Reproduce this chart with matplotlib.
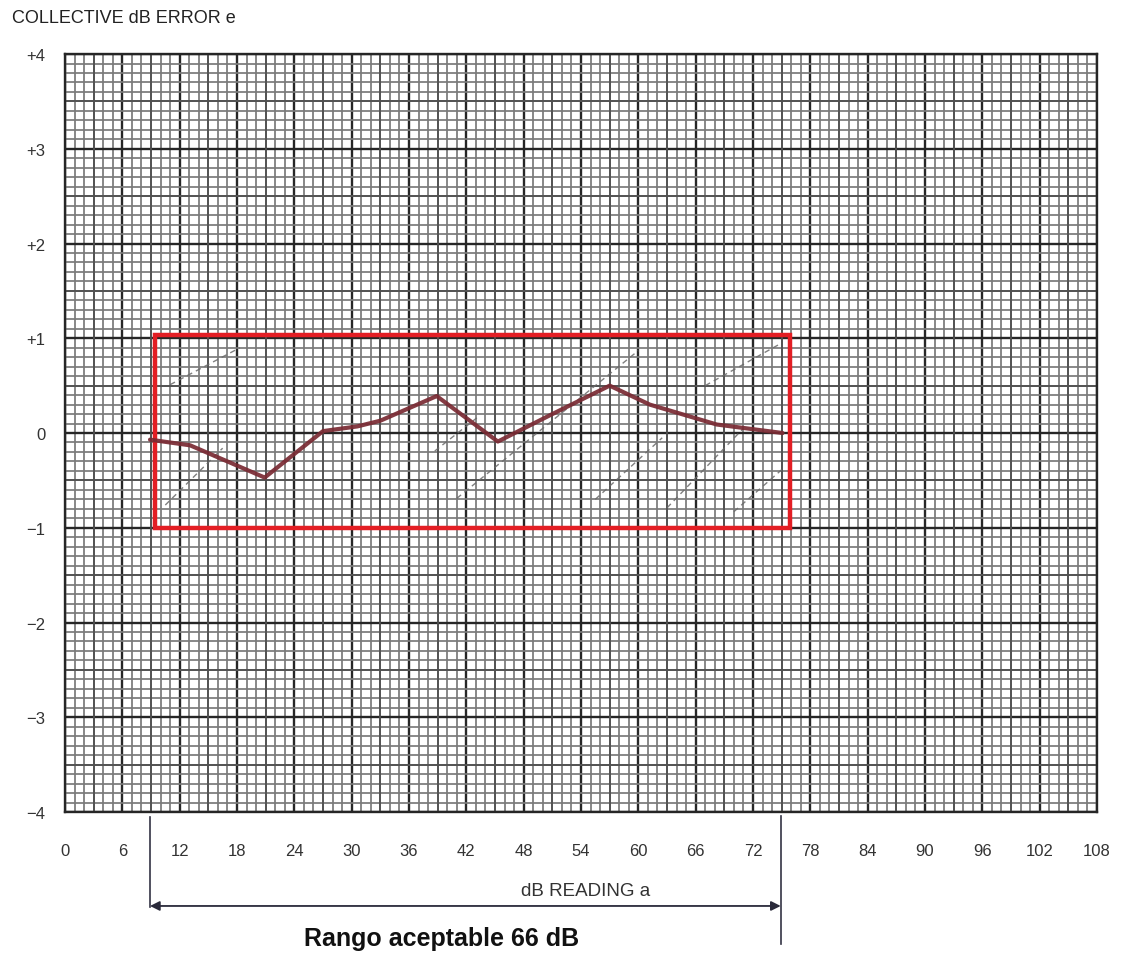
import numpy as np
import matplotlib
matplotlib.use("Agg")
import matplotlib.pyplot as plt
from matplotlib.patches import Rectangle
from matplotlib.lines import Line2D
from matplotlib.transforms import blended_transform_factory

plt.rcParams['font.family'] = ['Liberation Sans', 'DejaVu Sans']

# dB reading (x) and collective dB error (y) of the measured curve
reading_db = [8.9, 13.1, 20.9, 27.0, 30.6, 33.0, 38.9, 45.3, 50.8, 57.0, 61.2, 68.2, 75.1]
error_db = [-0.07, -0.13, -0.47, 0.02, 0.07, 0.13, 0.39, -0.09, 0.19, 0.50, 0.30, 0.09, 0.0]

# acceptance window
window_x = [9.4, 75.9]
window_y = [-1.0, 1.03]

# faint diagonal reference strokes on the paper (x0, y0, x1, y1)
guide_x0 = [11.0, 10.5, 38.7, 41.0, 55.5, 63.0, 70.0, 67.0]
guide_y0 = [0.51, -0.76, -0.19, -0.69, -0.70, -0.79, -0.83, 0.50]
guide_x1 = [18.3, 16.5, 43.1, 60.0, 62.5, 71.0, 75.2, 75.0]
guide_y1 = [0.90, -0.16, 0.16, 0.87, -0.05, 0.05, -0.37, 0.95]

x_ticks = list(range(0, 109, 6))
y_ticks = [-4, -3, -2, -1, 0, 1, 2, 3, 4]
y_labels = ['\u22124', '\u22123', '\u22122', '\u22121', '0', '+1', '+2', '+3', '+4']

fig = plt.figure(figsize=(11.3, 9.54), dpi=100)
ax = fig.add_axes([0.0575, 0.1478, 0.9133, 0.7945])
ax.set_xlim(0, 108)
ax.set_ylim(-4, 4)

# graph paper: fine, medium and bold rulings
ax.set_xticks(x_ticks)
ax.set_yticks(y_ticks)
ax.set_xticks(np.arange(0, 109, 1), minor=True)
ax.set_yticks(np.arange(-4, 4.01, 0.1), minor=True)
ax.grid(which='minor', color='#7a7a7a', lw=1.25, zorder=0)
ax.grid(which='major', color='#262626', lw=1.7, zorder=1)
for xv in np.arange(3, 108, 6):
    ax.axvline(xv, color='#505050', lw=1.3, zorder=1)
for yv in np.arange(-3.5, 4, 1.0):
    ax.axhline(yv, color='#505050', lw=1.3, zorder=1)
ax.set_axisbelow(True)
for s in ax.spines.values():
    s.set_color('#262626')
    s.set_linewidth(1.7)

ax.tick_params(which='both', length=0)
ax.tick_params(axis='x', pad=22, labelsize=12, labelcolor='#333333')
ax.tick_params(axis='y', pad=14, labelsize=12, labelcolor='#333333')
ax.set_yticklabels(y_labels)

# faint diagonal strokes
for a, b, c, d in zip(guide_x0, guide_y0, guide_x1, guide_y1):
    ax.plot([a, c], [b, d], color='#6a6a6a', lw=1.0, ls=(0, (4, 3)), alpha=0.85, zorder=2)

# acceptance window
ax.add_patch(Rectangle((window_x[0], window_y[0]), window_x[1] - window_x[0],
                       window_y[1] - window_y[0], fill=False,
                       edgecolor='#e31e24', lw=3.2, zorder=4))

# measured curve
ax.plot(reading_db, error_db, color='#7a2a33', lw=3.0, solid_joinstyle='round',
        solid_capstyle='round', alpha=0.92, zorder=5)

fig.text(0.0106, 0.981, 'COLLECTIVE dB ERROR e', fontsize=13, color='#222222',
         ha='left', va='center')

# range annotation below the axis
tr = blended_transform_factory(ax.transData, fig.transFigure)
fig.add_artist(Line2D([8.9, 8.9], [0.1426, 0.0482], transform=tr, color='#333344', lw=1.2))
fig.add_artist(Line2D([74.9, 74.9], [0.1436, 0.0094], transform=tr, color='#333344', lw=1.2))
ax.annotate('', xy=(8.9, 0.0493), xycoords=tr, xytext=(74.9, 0.0493), textcoords=tr,
            arrowprops=dict(arrowstyle='<|-|>', color='#2a2a3a', lw=1.3,
                            mutation_scale=14, shrinkA=0, shrinkB=0),
            annotation_clip=False)
fig.text(54.5, 0.066, 'dB READING a', transform=tr, fontsize=13.5, color='#333333',
         ha='center', va='center')
fig.text(39.4, 0.0085, 'Rango aceptable 66 dB', transform=tr, fontsize=18,
         fontweight='bold', color='#111111', ha='center', va='baseline')

fig.savefig('out.png', dpi=100, facecolor='white')
